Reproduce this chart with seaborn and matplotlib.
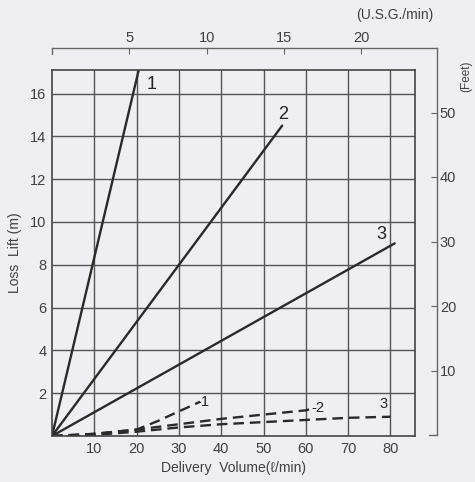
import numpy as np
import pandas as pd
import matplotlib
matplotlib.use('Agg')
import matplotlib.pyplot as plt
import seaborn as sns

# solid lines (loss lift, m) vs delivery volume (L/min)
solid_1_x = [0, 20.5]
solid_1_y = [0, 17.1]
solid_2_x = [0, 54.4]
solid_2_y = [0, 14.5]
solid_3_x = [0, 81]
solid_3_y = [0, 9.0]

# dashed lines
dash_1_x = [0, 10, 20, 25, 30, 35]
dash_1_y = [0, 0.1, 0.3, 0.7, 1.15, 1.6]
dash_2_x = [0, 10, 20, 30, 40, 50, 60, 62]
dash_2_y = [0, 0.1, 0.3, 0.55, 0.8, 1.0, 1.2, 1.3]
dash_3_x = [0, 10, 20, 30, 40, 50, 60, 70, 80]
dash_3_y = [0, 0.05, 0.2, 0.4, 0.55, 0.65, 0.75, 0.85, 0.9]

x_ticks = [10, 20, 30, 40, 50, 60, 70, 80]
y_ticks = [2, 4, 6, 8, 10, 12, 14, 16]
usg_ticks = [5, 10, 15, 20]
feet_ticks = [10, 20, 30, 40, 50]

bg = '#efeff3'
txt = '#404040'

sns.set_style('white')
plt.rcParams['font.family'] = ['Liberation Sans', 'DejaVu Sans']

fig = plt.figure(figsize=(4.75, 4.82), dpi=100, facecolor=bg)

W, H = 475, 482
def rect(x0, y0, x1, y1):
    return [x0 / W, 1 - y1 / H, (x1 - x0) / W, (y1 - y0) / H]

# secondary scale (U.S.G./min, Feet)
ax2 = fig.add_axes(rect(52, 48, 437, 435))
ax2.set_facecolor('none')
ax2.set_xlim(0, 24.9)
ax2.set_ylim(0, 60)
for s in ['left', 'bottom']:
    ax2.spines[s].set_visible(False)
for s in ['top', 'right']:
    ax2.spines[s].set_color('#666666')
    ax2.spines[s].set_linewidth(1.0)
ax2.xaxis.tick_top()
ax2.yaxis.tick_right()
ax2.set_xticks(usg_ticks)
ax2.set_yticks(feet_ticks)
ax2.tick_params(axis='x', direction='in', length=4, color='#666666', labelsize=10.5,
                labelcolor=txt, pad=2)
ax2.tick_params(axis='y', direction='in', length=4, color='#666666', labelsize=10.5,
                labelcolor=txt, pad=2)
fig.text(395 / W, 1 - 15 / H, '(U.S.G./min)', ha='center', va='center',
         fontsize=10, color=txt)
fig.text(466 / W, 1 - 76 / H, '(Feet)', ha='center', va='center',
         rotation=90, fontsize=8.5, color=txt)
# small hooks at bracket ends
ax2.plot([0, 0], [60, 59], color='#666666', lw=1, clip_on=False)
ax2.plot([24.9, 24.4], [0, 0], color='#666666', lw=1, clip_on=False)

# main axes
ax = fig.add_axes(rect(52, 70, 415, 436))
ax.set_facecolor('none')
ax.set_xlim(0, 85.8)
ax.set_ylim(0, 17.1)

solid = [(solid_1_x, solid_1_y), (solid_2_x, solid_2_y), (solid_3_x, solid_3_y)]
dashed = [(dash_1_x, dash_1_y), (dash_2_x, dash_2_y), (dash_3_x, dash_3_y)]
for xs, ys in solid:
    sns.lineplot(x=xs, y=ys, ax=ax, color='#2a2a2a', lw=1.7)
for xs, ys in dashed:
    sns.lineplot(x=xs, y=ys, ax=ax, color='#2a2a2a', lw=1.7, linestyle=(0, (4.5, 2.5)))

ax.set_xticks(x_ticks)
ax.set_yticks(y_ticks)
ax.grid(True, color='#555555', lw=1.0)
ax.set_axisbelow(True)
for s in ax.spines.values():
    s.set_color('#444444')
    s.set_linewidth(1.2)
ax.tick_params(length=0, labelsize=10.5, labelcolor=txt, pad=4)
ax.set_xlabel('Delivery  Volume(ℓ/min)', fontsize=10, color=txt, labelpad=4)
ax.set_ylabel('Loss  Lift (m)', fontsize=10, color=txt, labelpad=6)

for lbl, (x, y) in zip(['1', '2', '3'], [(23.6, 16.4), (54.6, 15.0), (77.8, 9.4)]):
    ax.text(x, y, lbl, fontsize=13, color='#222222', ha='center', va='center')
for lbl, (x, y) in zip(['-1', '-2', '3'], [(35.6, 1.6), (62.8, 1.3), (78.3, 1.5)]):
    ax.text(x, y, lbl, fontsize=10.5, color='#222222', ha='center', va='center')

fig.savefig('out.png', dpi=100, facecolor=bg)
